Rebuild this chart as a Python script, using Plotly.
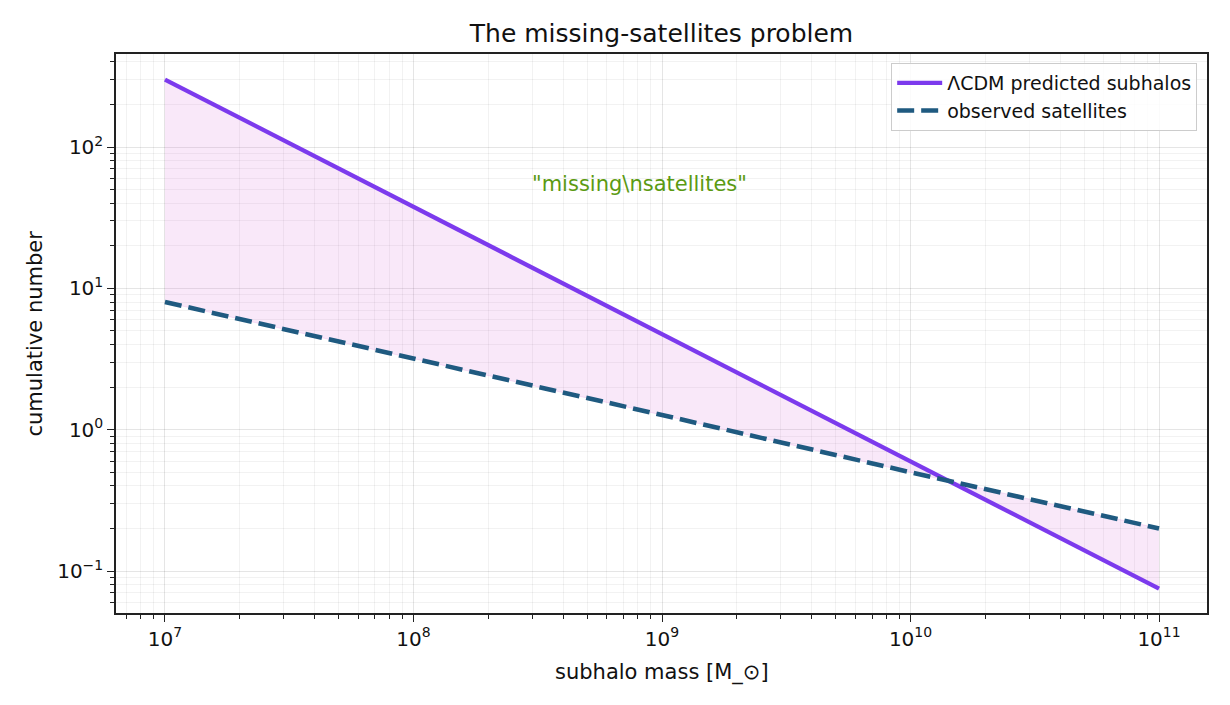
import math
import plotly.graph_objects as go

# -----------------------------
# DATA
# -----------------------------
subhalo_mass = [1e7, 1e8, 1e9, 1e10, 1e11]
predicted_subhalos = [300, 37.8, 4.75, 0.6, 0.075]
observed_satellites = [8, 3.2, 1.27, 0.5, 0.2]

x_tickvals = [1e7, 1e8, 1e9, 1e10, 1e11]
x_ticktext = ["10<sup>7</sup>", "10<sup>8</sup>", "10<sup>9</sup>",
              "10<sup>10</sup>", "10<sup>11</sup>"]
y_tickvals = [0.1, 1, 10, 100]
y_ticktext = ["10<sup>−1</sup>", "10<sup>0</sup>", "10<sup>1</sup>", "10<sup>2</sup>"]

label_x = 8.1e8
label_y = 55

PURPLE = "#7c3aed"
NAVY = "#1f5a80"
GREEN = "#5b9a12"
FONT = "DejaVu Sans"

# page body offsets the figure by ~8px, so margins are shifted to match
PAGE_OFFSET = 8
W, H = 1230, 705


def minor_ticks(lo, hi):
    return [m * 10.0 ** e for e in range(lo, hi) for m in range(2, 10)]


# -----------------------------
# BUILD FIGURE
# -----------------------------
fig = go.Figure()

# gap between prediction and observation
fig.add_trace(go.Scatter(
    x=subhalo_mass, y=observed_satellites,
    mode="lines", line=dict(width=0.8, color="rgba(220,120,220,0.25)"),
    showlegend=False, hoverinfo="skip"
))
fig.add_trace(go.Scatter(
    x=subhalo_mass, y=predicted_subhalos,
    mode="lines", line=dict(width=0.8, color="rgba(220,120,220,0.25)"),
    fill="tonexty", fillcolor="rgba(220,120,220,0.17)",
    showlegend=False, hoverinfo="skip"
))

fig.add_trace(go.Scatter(
    x=subhalo_mass, y=predicted_subhalos,
    name="ΛCDM predicted subhalos", mode="lines",
    line=dict(color=PURPLE, width=4.3)
))
fig.add_trace(go.Scatter(
    x=subhalo_mass, y=observed_satellites,
    name="observed satellites", mode="lines",
    line=dict(color=NAVY, width=4.6, dash="17px,7px")
))

fig.add_annotation(
    x=math.log10(label_x), y=math.log10(label_y), xref="x", yref="y",
    text='"missing\\nsatellites"', showarrow=False,
    font=dict(family=FONT, size=21, color=GREEN)
)

# axis titles placed by hand (matplotlib-like offsets)
fig.add_annotation(
    x=0.5, y=0, xref="paper", yref="paper", yshift=-59,
    xanchor="center", yanchor="middle", showarrow=False,
    text="subhalo mass [M_⊙]",
    font=dict(family=FONT, size=21, color="#111")
)
fig.add_annotation(
    x=0, y=0.5, xref="paper", yref="paper", xshift=-82,
    xanchor="center", yanchor="middle", showarrow=False, textangle=-90,
    text="cumulative number",
    font=dict(family=FONT, size=21, color="#111")
)

axis_common = dict(
    type="log",
    showline=True, mirror=True, linecolor="#222", linewidth=1.5,
    ticks="outside", ticklen=7, tickwidth=1.3, tickcolor="#222",
    tickmode="array",
    showgrid=True, gridcolor="rgba(0,0,0,0.10)", gridwidth=1,
    zeroline=False, automargin=False,
    tickfont=dict(family=FONT, size=20, color="#111"),
)
minor_common = dict(
    tickmode="array", ticks="outside", ticklen=4, tickwidth=1,
    tickcolor="#222", showgrid=True,
    gridcolor="rgba(0,0,0,0.05)", gridwidth=1
)

fig.update_xaxes(
    range=[6.803, 11.193],
    tickvals=x_tickvals, ticktext=x_ticktext,
    minor=dict(tickvals=minor_ticks(6, 12), **minor_common),
    **axis_common
)
fig.update_yaxes(
    range=[-1.297, 2.658],
    tickvals=y_tickvals, ticktext=y_ticktext,
    minor=dict(tickvals=minor_ticks(-2, 3), **minor_common),
    **axis_common
)

fig.update_layout(
    width=W, height=H,
    template="plotly_white",
    paper_bgcolor="white", plot_bgcolor="white",
    margin=dict(l=116 - PAGE_OFFSET, r=23 + PAGE_OFFSET,
                t=54 - PAGE_OFFSET, b=92 + PAGE_OFFSET),
    title=dict(
        text="The missing-satellites problem",
        x=0.5, xref="paper", xanchor="center",
        y=1 - (33 - PAGE_OFFSET) / H, yanchor="middle",
        font=dict(family=FONT, size=25, color="#111")
    ),
    legend=dict(
        x=0.991, y=0.984, xanchor="right", yanchor="top",
        bgcolor="rgba(255,255,255,0.85)",
        bordercolor="#cccccc", borderwidth=1,
        font=dict(family=FONT, size=19, color="#111"),
        traceorder="normal",
        tracegroupgap=0,
        itemwidth=45
    ),
    showlegend=True,
)

fig.write_html("out.html")
